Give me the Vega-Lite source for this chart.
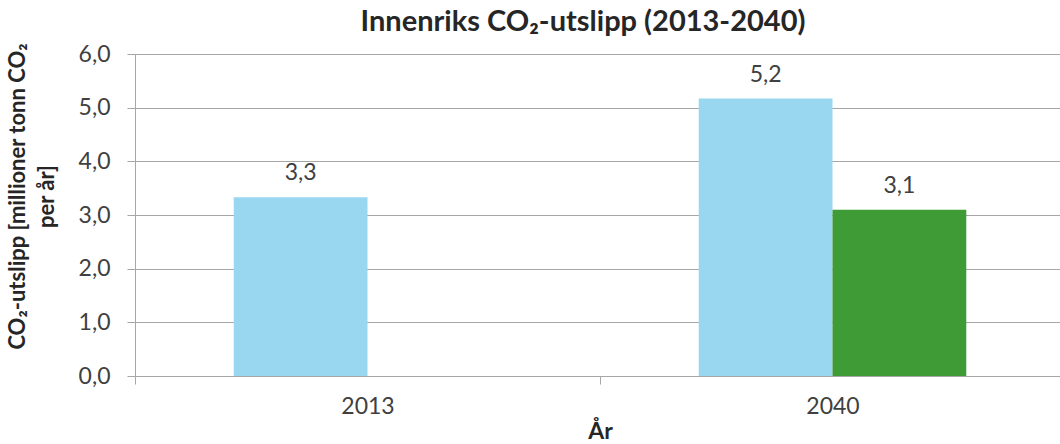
{
  "$schema": "https://vega.github.io/schema/vega-lite/v6.json",
  "width": 930,
  "height": 322,
  "autosize": {"type": "none"},
  "padding": {"left": 135, "top": 54, "right": 0, "bottom": 68},
  "background": "white",
  "config": {
    "view": {"stroke": null},
    "font": "Lato",
    "locale": {"number": {"decimal": ",", "thousands": " ", "grouping": [3], "currency": ["", " kr"]}}
  },
  "title": {
    "text": "Innenriks CO₂-utslipp (2013-2040)",
    "fontSize": 29,
    "fontWeight": "bold",
    "color": "#262626",
    "anchor": "middle",
    "dx": -17,
    "offset": 6
  },
  "data": {
    "values": [
      {"year": "2013", "series": "Referanse", "value": 3.33},
      {"year": "2040", "series": "Referanse", "value": 5.17},
      {"year": "2040", "series": "Tiltak", "value": 3.1}
    ]
  },
  "encoding": {
    "x": {
      "field": "year",
      "type": "nominal",
      "scale": {"paddingInner": 0, "paddingOuter": 0},
      "axis": {
        "title": "År",
        "labelAngle": 0,
        "labelFontSize": 23,
        "labelColor": "#404040",
        "labelPadding": 11,
        "titleFontSize": 23,
        "titleFontWeight": "bold",
        "titleColor": "#262626",
        "titlePadding": 2,
        "tickBand": "extent",
        "tickSize": 8,
        "tickColor": "#A6A6A6",
        "domainColor": "#A6A6A6",
        "grid": false
      }
    },
    "xOffset": {
      "field": "series",
      "type": "nominal",
      "scale": {"domain": ["Referanse", "Tiltak"], "paddingInner": 0, "paddingOuter": 0.738}
    },
    "y": {
      "field": "value",
      "type": "quantitative",
      "scale": {"domain": [0, 6], "nice": false},
      "axis": {
        "values": [0, 1, 2, 3, 4, 5, 6],
        "format": ".1f",
        "title": ["CO₂-utslipp [millioner tonn CO₂", "per år]"],
        "titleFontSize": 22,
        "titleFontWeight": "bold",
        "titleColor": "#262626",
        "titleAngle": -90,
        "titleBaseline": "top",
        "titleAlign": "center",
        "titleX": -128,
        "titleY": 142,
        "titleLineHeight": 29,
        "labelFontSize": 23,
        "labelColor": "#404040",
        "labelPadding": 17,
        "tickSize": 8,
        "tickColor": "#A6A6A6",
        "domainColor": "#A6A6A6",
        "gridColor": "#A6A6A6"
      }
    }
  },
  "layer": [
    {
      "mark": {"type": "bar"},
      "encoding": {
        "color": {
          "field": "series",
          "type": "nominal",
          "scale": {"domain": ["Referanse", "Tiltak"], "range": ["#99D6F0", "#3F9B35"]},
          "legend": null
        }
      }
    },
    {
      "mark": {"type": "text", "baseline": "bottom", "dy": -12, "fontSize": 23, "color": "#404040"},
      "encoding": {
        "text": {"field": "value", "type": "quantitative", "format": ".1f"}
      }
    }
  ]
}
